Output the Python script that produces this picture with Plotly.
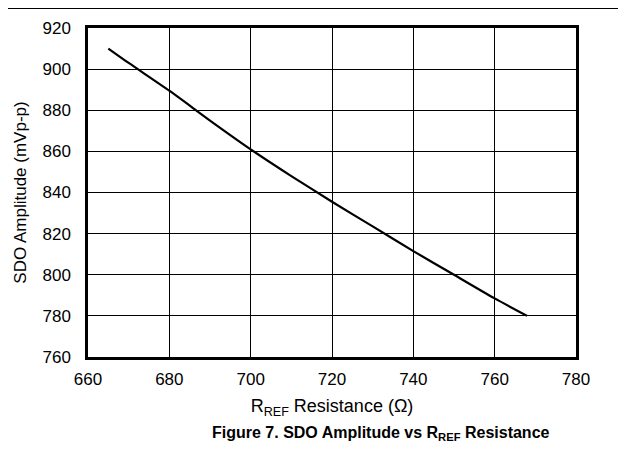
import plotly.graph_objects as go

# Data
rref_ohm = [665, 670, 680, 690, 700, 710, 720, 730, 740, 750, 760, 768]
sdo_amplitude_mvpp = [910, 903, 889.5, 875, 861, 848, 835.5, 823.5, 811.5, 800, 788.5, 780]

x_ticks = [660, 680, 700, 720, 740, 760, 780]
y_ticks = [760, 780, 800, 820, 840, 860, 880, 900, 920]

font_family = "Liberation Sans, Arial, sans-serif"

# page body has an 8px margin, so the figure is sized to fit inside it
fig_w, fig_h = 618, 457
m_l, m_r, m_t, m_b = 80, 50, 20, 108
plot_w = fig_w - m_l - m_r
plot_h = fig_h - m_t - m_b

fig = go.Figure()

fig.add_trace(go.Scatter(
    x=rref_ohm, y=sdo_amplitude_mvpp, mode="lines",
    line=dict(color="black", width=2.2, shape="spline", smoothing=0.6),
    showlegend=False, hoverinfo="skip"
))

axis_style = dict(
    showgrid=True, gridcolor="black", gridwidth=1,
    showline=True, linecolor="black", linewidth=2.5, mirror=True,
    zeroline=False, ticks="",
    tickfont=dict(family=font_family, size=17, color="black"),
)

fig.update_xaxes(
    range=[660, 780], tickvals=x_ticks, ticklabelstandoff=5,
    title=dict(text="R<sub>REF</sub> Resistance (Ω)", standoff=12,
               font=dict(family=font_family, size=18, color="black")),
    **axis_style
)
fig.update_yaxes(
    range=[760, 920], tickvals=y_ticks, ticklabelstandoff=11,
    title=dict(text="SDO Amplitude (mVp-p)", standoff=12,
               font=dict(family=font_family, size=17, color="black")),
    **axis_style
)

# Figure caption and header rule
fig.add_annotation(
    text="<b>Figure 7. SDO Amplitude vs R<sub>REF</sub> Resistance</b>",
    xref="paper", yref="paper", x=0.6, y=-76 / plot_h,
    xanchor="center", yanchor="middle", showarrow=False,
    font=dict(family=font_family, size=16, color="black")
)
fig.add_shape(
    type="line", xref="paper", yref="paper",
    x0=-m_l / plot_w, x1=1 + m_r / plot_w,
    y0=1 + m_t / plot_h, y1=1 + m_t / plot_h,
    line=dict(color="black", width=2)
)

fig.update_layout(
    width=fig_w, height=fig_h,
    margin=dict(l=m_l, r=m_r, t=m_t, b=m_b),
    plot_bgcolor="white", paper_bgcolor="white",
    font=dict(family=font_family, color="black"),
)

fig.write_html("out.html")
